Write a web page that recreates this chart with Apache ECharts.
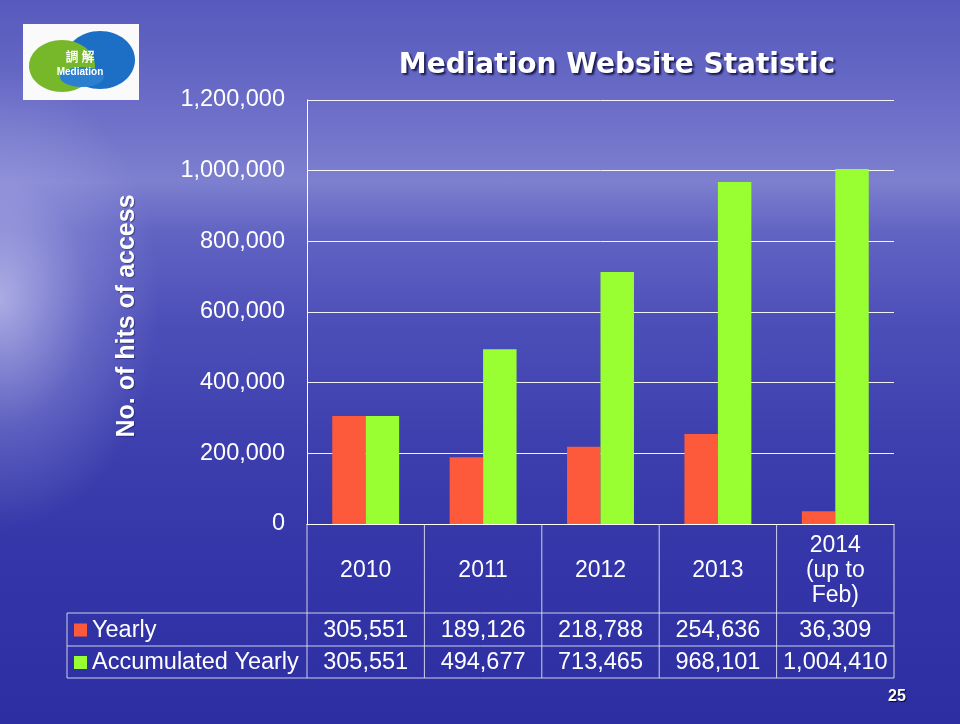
<!DOCTYPE html>
<html>
<head>
<meta charset="utf-8">
<script src="https://cdn.jsdelivr.net/npm/echarts@6/dist/echarts.min.js"></script>
<style>
  html, body { margin: 0; padding: 0; }
  body {
    width: 960px; height: 724px; overflow: hidden;
    background:
      radial-gradient(ellipse 160px 230px at 0px 300px, rgba(230,230,255,0.6), rgba(190,190,240,0.25) 55%, rgba(160,160,230,0) 100%),
      linear-gradient(to bottom, #5759bd 0%, #6a6cc7 14%, #7d7fcf 25%, #6264c3 32%, #4c4eb8 45%, #3e40af 60%, #3335a8 78%, #2c2ea2 100%);
  }
  #main { width: 960px; height: 724px; }
</style>
</head>
<body>
<div id="main"></div>
<script>
// data
const categories = ['2010', '2011', '2012', '2013', '2014\n(up to\nFeb)']
const yearly = [305551, 189126, 218788, 254636, 36309]
const accumulated = [305551, 494677, 713465, 968101, 1004410]
const seriesNames = ['Yearly', 'Accumulated Yearly']
const yMin = 0
const yMax = 1200000
const yStep = 200000

const colorBoard = {
  yearly: '#fc5a3b',
  accumulated: '#99ff33',
}
const fontFamily = '"Liberation Sans", Arial, sans-serif'
const fmt = (v) => v.toLocaleString('en-US')

const myChart = echarts.init(document.getElementById('main'), null, { renderer: 'canvas' })

const option = {
  backgroundColor: 'transparent',
  animation: false,
  title: {
    text: 'Mediation Website Statistic',
    left: 612,
    top: 47,
    textAlign: 'center',
    textStyle: {
      color: '#fff',
      fontFamily: '"DejaVu Sans", Verdana, sans-serif',
      fontWeight: 'bold',
      fontSize: 28,
      textShadowColor: 'rgba(0,0,40,0.75)',
      textShadowOffsetX: 2,
      textShadowOffsetY: 2,
      textShadowBlur: 2,
    },
  },
  grid: {
    left: 307,
    right: 66,
    top: 100,
    bottom: 200,
    containLabel: false,
  },
  xAxis: {
    type: 'category',
    data: categories,
    axisLine: { show: true, lineStyle: { color: '#ffffff', width: 1 } },
    axisTick: { show: false },
    axisLabel: {
      color: '#fff',
      fontFamily: fontFamily,
      fontSize: 23,
      lineHeight: 25,
      margin: 47,
      verticalAlign: 'middle',
      interval: 0,
    },
  },
  yAxis: {
    type: 'value',
    min: yMin,
    max: yMax,
    interval: yStep,
    axisLine: { show: true, lineStyle: { color: '#ffffff', width: 1 } },
    axisTick: { show: false },
    splitLine: { show: true, lineStyle: { color: 'rgba(255,255,255,0.92)', width: 1 } },
    axisLabel: {
      color: '#fff',
      fontFamily: fontFamily,
      fontSize: 23.5,
      margin: 22,
      padding: [5, 0, 0, 0],
      formatter: (v) => fmt(v),
    },
  },
  series: [
    {
      name: seriesNames[0],
      type: 'bar',
      data: yearly,
      barGap: '0%',
      barCategoryGap: '43%',
      itemStyle: { color: colorBoard.yearly },
    },
    {
      name: seriesNames[1],
      type: 'bar',
      data: accumulated,
      barGap: '0%',
      barCategoryGap: '43%',
      itemStyle: { color: colorBoard.accumulated },
    },
  ],
}

myChart.setOption(option)

// data table under the axis + decorations
function buildGraphics() {
  const centers = categories.map((c, i) => myChart.convertToPixel({ xAxisIndex: 0 }, i))
  const band = centers.length > 1 ? centers[1] - centers[0] : 100
  const gridLeft = centers[0] - band / 2
  const gridRight = centers[centers.length - 1] + band / 2
  const axisY = myChart.convertToPixel({ yAxisIndex: 0 }, yMin)
  const headBottom = axisY + 89
  const row1Bottom = headBottom + 33
  const row2Bottom = row1Bottom + 32
  const tableLeft = 67
  const lineColor = 'rgba(225,225,240,0.9)'
  const els = []
  const hline = (x1, x2, y) => els.push({
    type: 'line', shape: { x1, y1: y, x2, y2: y }, style: { stroke: lineColor, lineWidth: 1 }, silent: true,
  })
  const vline = (x, y1, y2) => els.push({
    type: 'line', shape: { x1: x, y1, x2: x, y2 }, style: { stroke: lineColor, lineWidth: 1 }, silent: true,
  })
  hline(tableLeft, gridRight, headBottom)
  hline(tableLeft, gridRight, row1Bottom)
  hline(tableLeft, gridRight, row2Bottom)
  vline(tableLeft, headBottom, row2Bottom)
  for (let i = 0; i <= centers.length; i++) {
    vline(gridLeft + i * band, axisY, row2Bottom)
  }
  const rows = [
    { name: seriesNames[0], values: yearly, color: colorBoard.yearly, y: (headBottom + row1Bottom) / 2 },
    { name: seriesNames[1], values: accumulated, color: colorBoard.accumulated, y: (row1Bottom + row2Bottom) / 2 },
  ]
  rows.forEach((r) => {
    els.push({ type: 'rect', shape: { x: 74, y: r.y - 6, width: 13, height: 13 }, style: { fill: r.color }, silent: true })
    els.push({
      type: 'text', x: 92, y: r.y + 1,
      style: { text: r.name, fill: '#fff', font: '23.5px ' + fontFamily, align: 'left', verticalAlign: 'middle' },
      silent: true,
    })
    r.values.forEach((v, i) => {
      els.push({
        type: 'text', x: centers[i], y: r.y + 1,
        style: { text: fmt(v), fill: '#fff', font: '23.5px ' + fontFamily, align: 'center', verticalAlign: 'middle' },
        silent: true,
      })
    })
  })
  // y axis title
  els.push({
    type: 'text', x: 127, y: 316, rotation: Math.PI / 2,
    style: {
      text: 'No. of hits of access', fill: '#fff', font: 'bold 25px ' + fontFamily,
      align: 'center', verticalAlign: 'middle',
      textShadowColor: 'rgba(0,0,40,0.4)', textShadowOffsetX: 1, textShadowOffsetY: 1, textShadowBlur: 1,
    },
    silent: true,
  })
  // logo
  els.push({ type: 'rect', shape: { x: 23, y: 24, width: 116, height: 76 }, style: { fill: '#fafafa' }, silent: true })
  els.push({ type: 'ellipse', shape: { cx: 100, cy: 60, rx: 35, ry: 29 }, style: { fill: '#1c6fc4' }, silent: true })
  els.push({ type: 'ellipse', shape: { cx: 62, cy: 66, rx: 33, ry: 26 }, style: { fill: '#76b82a' }, silent: true })
  els.push({ type: 'ellipse', shape: { cx: 82, cy: 77, rx: 22, ry: 10 }, style: { fill: '#2b7fd0' }, silent: true })
  els.push({
    type: 'text', x: 80, y: 56,
    style: { text: '調 解', fill: '#fff', font: 'bold 13px "Noto Sans CJK TC", sans-serif', align: 'center', verticalAlign: 'middle' },
    silent: true,
  })
  els.push({
    type: 'text', x: 80, y: 72,
    style: { text: 'Mediation', fill: '#fff', font: 'bold 10px ' + fontFamily, align: 'center', verticalAlign: 'middle' },
    silent: true,
  })
  // slide number
  els.push({
    type: 'text', x: 897, y: 697,
    style: {
      text: '25', fill: '#fff', font: 'bold 16px ' + fontFamily, align: 'center', verticalAlign: 'middle',
      textShadowColor: 'rgba(0,0,0,0.8)', textShadowOffsetX: 1, textShadowOffsetY: 1, textShadowBlur: 1,
    },
    silent: true,
  })
  myChart.setOption({ graphic: { elements: els } })
}

buildGraphics()
</script>
</body>
</html>
